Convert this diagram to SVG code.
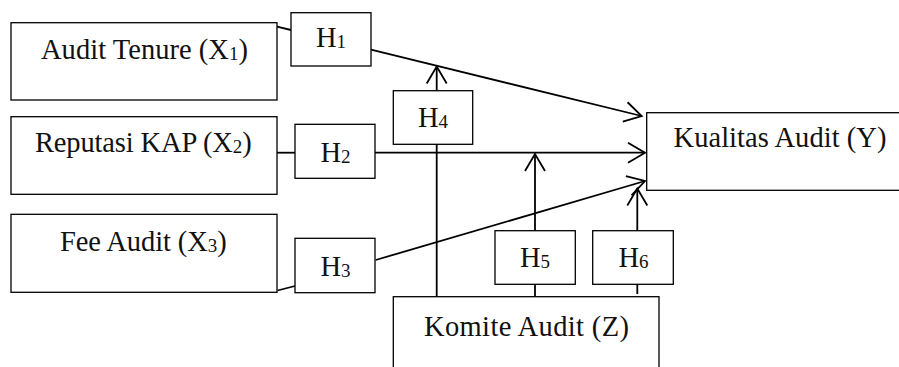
<svg xmlns="http://www.w3.org/2000/svg" width="899" height="367" viewBox="0 0 899 367">
<style>
.box{fill:#fff;stroke:#000;stroke-width:1.3}
.t{font-family:"Liberation Serif","Times New Roman",serif;font-size:28.5px;fill:#111;text-anchor:middle}
.s{font-size:19px}
.c{fill:none;stroke:#000;stroke-width:1.8}
.a{marker-end:url(#arr)}
</style>
<defs>
<marker id="arr" markerUnits="userSpaceOnUse" markerWidth="40" markerHeight="40" viewBox="-20 -20 40 40" refX="0" refY="0" orient="auto" overflow="visible">
<path d="M-17,-10 L0,0 L-17,10" fill="none" stroke="#000" stroke-width="1.8"/>
</marker>
</defs>
<g id="connectors">
<line class="c" x1="277" y1="26.7" x2="291" y2="30"/>
<line class="c a" x1="371" y1="49.7" x2="641.7" y2="116"/>
<line class="c" x1="277" y1="152.7" x2="295" y2="152.7"/>
<line class="c a" x1="375" y1="152.7" x2="645" y2="152.7"/>
<line class="c" x1="277.5" y1="290.5" x2="295" y2="286"/>
<line class="c a" x1="375.7" y1="260" x2="645" y2="181"/>
<line class="c a" x1="436.7" y1="296.7" x2="436.7" y2="66.5"/>
<line class="c a" x1="535" y1="296.7" x2="535" y2="154"/>
<line class="c a" x1="637.3" y1="294" x2="637.3" y2="188.5"/>
</g>
<g id="x1">
<rect class="box" x="11" y="22.7" width="266" height="77.3"/>
<text class="t" x="144.5" y="59.3" textLength="207" lengthAdjust="spacing">Audit Tenure (X<tspan class="s" dy="1">1</tspan><tspan dy="-1">)</tspan></text>
</g>
<g id="x2">
<rect class="box" x="11" y="116.7" width="266" height="77.6"/>
<text class="t" x="143.3" y="151.7" textLength="216.7" lengthAdjust="spacing">Reputasi KAP (X<tspan class="s" dy="1">2</tspan><tspan dy="-1">)</tspan></text>
</g>
<g id="x3">
<rect class="box" x="11" y="214.3" width="266" height="78"/>
<text class="t" x="143.3" y="250.7" textLength="166.7" lengthAdjust="spacing">Fee Audit (X<tspan class="s" dy="1">3</tspan><tspan dy="-1">)</tspan></text>
</g>
<g id="y">
<rect class="box" x="646.7" y="112.7" width="270" height="77.6"/>
<text class="t" x="780" y="146.7" textLength="213" lengthAdjust="spacing">Kualitas Audit (Y)</text>
</g>
<g id="z">
<rect class="box" x="393.3" y="296.7" width="265.7" height="90"/>
<text class="t" x="526.5" y="336" textLength="205" lengthAdjust="spacing">Komite Audit (Z)</text>
</g>
<g id="h1">
<rect class="box" x="291" y="12.7" width="80" height="53.3"/>
<text class="t" x="331" y="46.7">H<tspan class="s" dy="1">1</tspan></text>
</g>
<g id="h2">
<rect class="box" x="295" y="124.3" width="80" height="54"/>
<text class="t" x="335.5" y="161.7">H<tspan class="s" dy="1">2</tspan></text>
</g>
<g id="h3">
<rect class="box" x="295" y="238.3" width="80" height="54.4"/>
<text class="t" x="335.5" y="275.7">H<tspan class="s" dy="1">3</tspan></text>
</g>
<g id="h4">
<rect class="box" x="393.3" y="90.7" width="79.4" height="53.6"/>
<text class="t" x="433" y="127">H<tspan class="s" dy="1">4</tspan></text>
</g>
<g id="h5">
<rect class="box" x="495" y="230.7" width="80.3" height="53.6"/>
<text class="t" x="535" y="266.7">H<tspan class="s" dy="1">5</tspan></text>
</g>
<g id="h6">
<rect class="box" x="592.7" y="230.7" width="80.6" height="53.6"/>
<text class="t" x="633.5" y="266.7">H<tspan class="s" dy="1">6</tspan></text>
</g>
</svg>
